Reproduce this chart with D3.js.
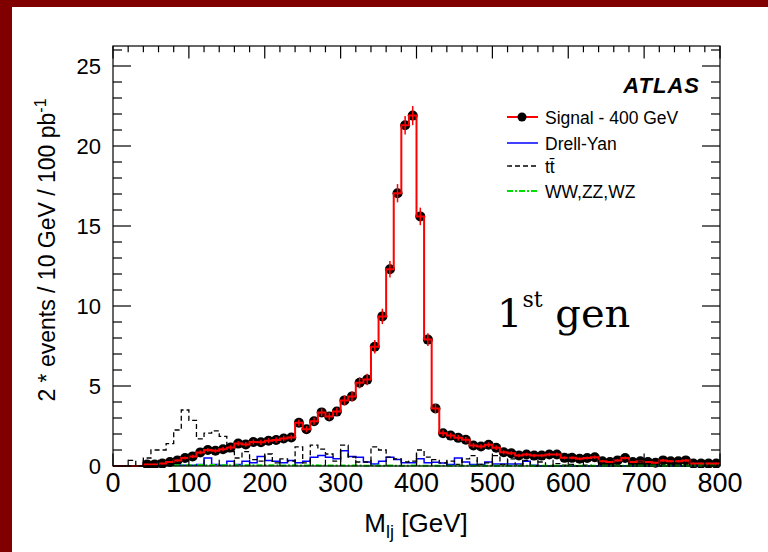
<!DOCTYPE html>
<html><head><meta charset="utf-8">
<script src="https://cdn.jsdelivr.net/npm/d3@7"></script>
<style>body{margin:0;background:#fff}svg{display:block}</style>
</head><body>
<svg id="c" width="768" height="552"></svg>
<script>
// ---------- data ----------
const xTickLabels = [0,100,200,300,400,500,600,700,800];
const yTickLabels = [0,5,10,15,20,25];
const binWidth = 10;
const binLow = d3.range(0, 800, binWidth);   // 80 bins, 0-800 GeV

const signal = [0,0,0,0, 0.1,0.1,0.15,0.25,0.35,0.5,
  0.6,0.85,1.0,0.95,1.05,1.15,1.4,1.35,1.5,1.48,
  1.58,1.62,1.72,1.78,2.7,2.3,2.8,3.35,3.1,3.4,
  4.1,4.35,5.2,5.4,7.45,9.35,12.3,17.05,21.3,21.9,
  15.6,7.9,3.6,2.05,1.9,1.76,1.64,1.28,1.22,1.33,
  1.14,0.86,0.8,0.66,0.72,0.65,0.65,0.72,0.72,0.51,
  0.51,0.45,0.5,0.55,0.3,0.25,0.35,0.5,0.25,0.3,
  0.25,0.2,0.35,0.3,0.3,0.35,0.15,0.15,0.15,0.15];

const signalErr = [0,0,0,0, 0.04,0.04,0.05,0.07,0.08,0.09,
  0.1,0.12,0.13,0.13,0.13,0.14,0.15,0.15,0.16,0.16,
  0.16,0.17,0.17,0.17,0.21,0.2,0.22,0.24,0.23,0.24,
  0.3,0.31,0.35,0.36,0.42,0.48,0.52,0.57,0.58,0.6,
  0.55,0.4,0.28,0.19,0.18,0.17,0.17,0.15,0.14,0.15,
  0.14,0.12,0.12,0.11,0.11,0.1,0.1,0.11,0.11,0.09,
  0.09,0.09,0.09,0.1,0.07,0.07,0.08,0.09,0.07,0.07,
  0.07,0.06,0.08,0.07,0.07,0.08,0.05,0.05,0.05,0.05];

const drellYan = [0,0,0,0,0,0,0,0,0.05,0.05,
  0.05,0.1,0.5,0.1,0.05,0.3,0.1,0.3,0.2,0.6,
  0.35,0.3,0.2,0.35,0.2,0.3,0.55,0.65,0.55,0.45,
  0.95,0.6,0.55,0.25,0.13,0.3,0.55,0.4,0.2,0.2,
  0.45,0.2,0.24,0.18,0.1,0.5,0.25,0.1,0.1,0.25,
  0.12,0.12,0.12,0.12,0.3,0.05,0,0,0,0,
  0,0,0,0,0,0,0,0,0,0,
  0,0,0,0,0,0,0,0,0,0];

const ttbar = [0,0,0.35,0,0.5,1.0,1.0,1.4,2.25,3.5,
  2.85,1.7,2.05,2.2,1.85,0.9,0.5,0.9,0.4,0.3,
  0.75,0.2,0.45,0.3,1.2,0.2,1.3,1.05,0.75,0.3,
  1.3,0.55,0.25,0.25,1.2,1.0,0.55,0.45,0.25,0.3,
  1.0,0.55,0.4,0.2,0.3,0.1,0.45,0.65,0.1,0.2,
  0.65,0.1,0.45,0.05,0.35,0,0.25,0,0.15,0.05,
  0.1,0,0.05,0,0.1,0,0,0,0,0.3,
  0,0,0,0,0,0,0,0,0,0];

const diboson = [0,0,0,0,0,0,0,0,0.04,0.05,
  0.05,0.06,0.05,0.06,0.05,0.05,0.04,0.05,0.04,0.04,
  0.04,0.04,0.03,0.04,0.03,0.03,0.04,0.03,0.03,0.03,
  0.03,0.03,0.03,0.02,0.03,0.02,0.03,0.02,0.02,0.03,
  0.02,0.02,0.02,0.02,0.02,0.02,0.02,0.01,0.02,0.01,
  0.01,0.01,0.01,0.01,0.01,0.01,0.01,0.01,0.01,0.01,
  0.01,0.01,0.01,0.01,0.01,0.01,0.01,0.01,0.01,0.01,
  0.01,0.01,0.01,0.01,0.01,0.01,0.01,0.01,0.01,0.01];

const legendItems = ["Signal - 400 GeV", "Drell-Yan", "tt\u0304", "WW,ZZ,WZ"];

// ---------- layout ----------
const svg = d3.select("#c");
const L = 113, R = 720, T = 46, B = 466;
const x = d3.scaleLinear().domain([0, 800]).range([L, R]);
const y = d3.scaleLinear().domain([0, 26.25]).range([B, T]);
const SANS = "'Liberation Sans', Arial, Helvetica, sans-serif";

// slide frame
svg.append("rect").attr("x",0).attr("y",0).attr("width",768).attr("height",7).attr("fill","#800000");
svg.append("rect").attr("x",0).attr("y",0).attr("width",12).attr("height",552).attr("fill","#800000");

const plot = svg.append("g");
plot.append("clipPath").attr("id","clip").append("rect")
  .attr("x",L).attr("y",T).attr("width",R-L).attr("height",B-T+2);

function stepPoints(vals){
  let first = vals.findIndex(v => v > 0);
  if (first < 0) first = 0;
  const pts = [];
  for (let i = first; i < vals.length; i++){
    pts.push([binLow[i], vals[i]]);
    pts.push([binLow[i] + binWidth, vals[i]]);
  }
  return pts;
}
const line = d3.line().x(d => x(d[0])).y(d => y(d[1]));

const g = plot.append("g").attr("clip-path","url(#clip)");

// signal points
const sigIdx = d3.range(signal.length).filter(i => signal[i] > 0);
g.selectAll("circle.sig").data(sigIdx).join("circle")
  .attr("cx", i => x(binLow[i] + binWidth/2)).attr("cy", i => y(signal[i]))
  .attr("r", 5).attr("fill", "#000");
// signal histogram (starts at 0)
const sigPts = [];
signal.forEach((v,i) => { sigPts.push([binLow[i], v]); sigPts.push([binLow[i]+binWidth, v]); });
g.append("path").attr("d", line(sigPts)).attr("fill","none")
  .attr("stroke","#ff0000").attr("stroke-width",2);
// error bars
g.selectAll("line.err").data(sigIdx).join("line")
  .attr("x1", i => x(binLow[i] + binWidth/2)).attr("x2", i => x(binLow[i] + binWidth/2))
  .attr("y1", i => y(signal[i] - signalErr[i])).attr("y2", i => y(signal[i] + signalErr[i]))
  .attr("stroke","#ff0000").attr("stroke-width",1.5);

// backgrounds
g.append("path").attr("d", line(stepPoints(drellYan))).attr("fill","none")
  .attr("stroke","#0000ff").attr("stroke-width",1.5);
g.append("path").attr("d", line(stepPoints(ttbar))).attr("fill","none")
  .attr("stroke","#000").attr("stroke-width",1.3).attr("stroke-dasharray","5,3");
g.append("path").attr("d", line(stepPoints(diboson))).attr("fill","none")
  .attr("stroke","#00e000").attr("stroke-width",2).attr("stroke-dasharray","6,2,2,2");

// frame
plot.append("rect").attr("x",L).attr("y",T).attr("width",R-L).attr("height",B-T)
  .attr("fill","none").attr("stroke","#000").attr("stroke-width",1.2);

// ticks
const ax = plot.append("g").attr("stroke","#000").attr("stroke-width",1.2);
const xMinor = d3.range(0, 801, 20);
xMinor.forEach(v => {
  const major = v % 100 === 0;
  const len = major ? 12.6 : 6.3;
  ax.append("line").attr("x1",x(v)).attr("x2",x(v)).attr("y1",B).attr("y2",B-len);
  ax.append("line").attr("x1",x(v)).attr("x2",x(v)).attr("y1",T).attr("y2",T+len);
});
const yMinor = d3.range(0, 26.01, 1);
yMinor.forEach(v => {
  const major = v % 5 === 0;
  const len = major ? 18 : 9;
  ax.append("line").attr("x1",L).attr("x2",L+len).attr("y1",y(v)).attr("y2",y(v));
  ax.append("line").attr("x1",R).attr("x2",R-len).attr("y1",y(v)).attr("y2",y(v));
});

// tick labels
plot.selectAll("text.xl").data(xTickLabels).join("text")
  .attr("x", d => x(d)).attr("y", 492).attr("text-anchor","middle")
  .attr("font-family",SANS).attr("font-size",27).attr("fill","#000").text(d => d);
plot.selectAll("text.yl").data(yTickLabels).join("text")
  .attr("x", 101).attr("y", d => y(d)).attr("dy","0.36em").attr("text-anchor","end")
  .attr("font-family",SANS).attr("font-size",22).attr("fill","#000").text(d => d);

// axis titles
const xt = svg.append("text").attr("x",416).attr("y",532).attr("text-anchor","middle")
  .attr("font-family",SANS).attr("font-size",26).attr("fill","#000");
xt.append("tspan").text("M");
xt.append("tspan").attr("font-size",18).attr("dy",6).text("lj");
xt.append("tspan").attr("dy",-6).text(" [GeV]");

const yt = svg.append("text").attr("transform","translate(55,250) rotate(-90)")
  .attr("text-anchor","middle").attr("font-family",SANS).attr("font-size",23).attr("fill","#000");
yt.append("tspan").text("2 * events / 10 GeV / 100 pb");
yt.append("tspan").attr("font-size",16).attr("dy",-9).text("-1");

// ATLAS label
svg.append("text").attr("x",700).attr("y",93).attr("text-anchor","end")
  .attr("font-family",SANS).attr("font-size",22).attr("font-weight","bold")
  .attr("font-style","italic").attr("letter-spacing",1).attr("fill","#000").text("ATLAS");

// legend
const legY = [117, 143, 166, 191];
const lg = svg.append("g");
lg.append("line").attr("x1",507).attr("x2",538).attr("y1",legY[0]).attr("y2",legY[0])
  .attr("stroke","#ff0000").attr("stroke-width",2);
lg.append("circle").attr("cx",522).attr("cy",legY[0]).attr("r",4.5).attr("fill","#000");
lg.append("line").attr("x1",507).attr("x2",538).attr("y1",legY[1]).attr("y2",legY[1])
  .attr("stroke","#0000ff").attr("stroke-width",1.5);
lg.append("line").attr("x1",507).attr("x2",538).attr("y1",legY[2]).attr("y2",legY[2])
  .attr("stroke","#000").attr("stroke-width",1.3).attr("stroke-dasharray","5,3");
lg.append("line").attr("x1",507).attr("x2",538).attr("y1",legY[3]).attr("y2",legY[3])
  .attr("stroke","#00e000").attr("stroke-width",2).attr("stroke-dasharray","6,2,2,2");
lg.selectAll("text").data(legendItems).join("text")
  .attr("x",545).attr("y",(d,i) => legY[i] + 6.5)
  .attr("font-family",SANS).attr("font-size",17.5).attr("fill","#000")
  .text(d => d);

// 1st gen
const gen = svg.append("text").attr("x",497).attr("y",327)
  .attr("font-family","'DejaVu Serif', serif").attr("font-size",40).attr("fill","#000");
gen.append("tspan").text("1");
gen.append("tspan").attr("font-size",22).attr("dy",-20).text("st");
gen.append("tspan").attr("dy",20).text(" gen");
</script>
</body></html>
